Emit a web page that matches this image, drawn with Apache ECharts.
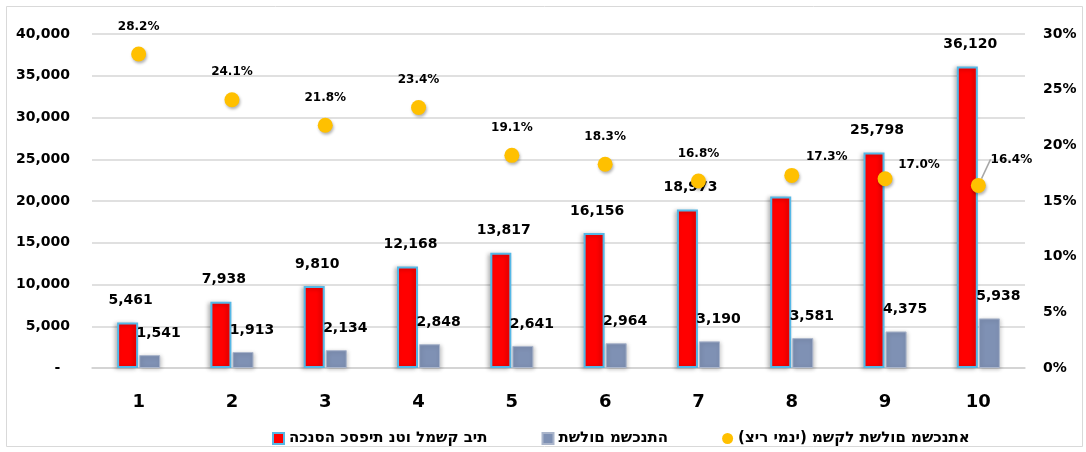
<!DOCTYPE html>
<html>
<head>
<meta charset="utf-8">
<script src="https://cdn.jsdelivr.net/npm/echarts@6/dist/echarts.min.js"></script>
<style>
  html, body { margin: 0; padding: 0; background: #fff; }
  #main { width: 1086px; height: 452px; }
</style>
</head>
<body>
<div id="main"></div>
<script>
// data
var categories = ['1', '2', '3', '4', '5', '6', '7', '8', '9', '10'];
var incomeValues = [5461, 7938, 9810, 12168, 13817, 16156, 18973, 20550, 25798, 36120];
var mortgageValues = [1541, 1913, 2134, 2848, 2641, 2964, 3190, 3581, 4375, 5938];
var shareValues = [28.2, 24.1, 21.8, 23.4, 19.1, 18.3, 16.8, 17.3, 17.0, 16.4];
var seriesNames = ['הכנסה כספית נטו למשק בית', 'תשלום משכנתה', 'משקל תשלום משכנתא (ציר ימני)'];

var font = 'DejaVu Sans';

// which income label is hidden in the picture (category 8)
var hiddenIncomeLabel = 7;
// labels of the share series that sit beside the dot, not above it
var shareLabelShift = { 7: [35, -19], 8: [34, -14], 9: [33, -26] };

function fmt(v) {
    return v.toLocaleString('en-US');
}

// the canvas here draws hebrew in logical order, so flip it to visual order
function visual(s) {
    return s.split('').reverse().map(function (c) {
        if (c === '(') return ')';
        if (c === ')') return '(';
        return c;
    }).join('');
}

var myChart = echarts.init(document.getElementById('main'));

var incomeData = incomeValues.map(function (v, i) {
    if (i === hiddenIncomeLabel) return { value: v, label: { show: false } };
    return v;
});
var shareData = shareValues.map(function (v, i) {
    if (i === 9) return { value: v, labelLine: { show: true } };
    return v;
});

var option = {
    backgroundColor: '#fff',
    animation: false,
    textStyle: { fontFamily: font },
    graphic: [{
        type: 'rect',
        shape: { x: 6.5, y: 6.5, width: 1076, height: 440 },
        style: { fill: 'none', stroke: '#d9d9d9', lineWidth: 1 },
        silent: true
    }],
    legend: {
        left: 267,
        top: 426,
        itemWidth: 11,
        itemHeight: 11,
        itemGap: 54,
        textStyle: { fontFamily: font, fontWeight: 'bold', fontSize: 15, color: '#000' },
        formatter: function (name) { return visual(name); },
        data: [
            { name: seriesNames[0], icon: 'rect' },
            { name: seriesNames[1], icon: 'rect' },
            { name: seriesNames[2], icon: 'circle' }
        ]
    },
    grid: { left: 92, right: 61, top: 34, bottom: 84 },
    xAxis: {
        type: 'category',
        data: categories,
        axisLine: { lineStyle: { color: '#d0d0d0', width: 1.5 } },
        axisTick: { show: false },
        axisLabel: { fontFamily: font, fontWeight: 'bold', fontSize: 18, color: '#000', margin: 25 }
    },
    yAxis: [{
        type: 'value',
        min: 0,
        max: 40000,
        interval: 5000,
        axisLine: { show: false },
        axisTick: { show: false },
        splitLine: { lineStyle: { color: '#d6d6d6', width: 1.5 } },
        axisLabel: {
            fontFamily: font, fontWeight: 'bold', fontSize: 14, color: '#000', margin: 22,
            formatter: function (v) { return v === 0 ? '-  ' : fmt(v); }
        }
    }, {
        type: 'value',
        min: 0,
        max: 30,
        interval: 5,
        axisLine: { show: false },
        axisTick: { show: false },
        splitLine: { show: false },
        axisLabel: {
            fontFamily: font, fontWeight: 'bold', fontSize: 14, color: '#000', margin: 18,
            formatter: '{value}%'
        }
    }],
    series: [
        {
            name: seriesNames[0],
            type: 'bar',
            barWidth: 21,
            barGap: '5%',
            data: incomeData,
            itemStyle: {
                color: '#ff0000',
                borderColor: '#55b8e6',
                borderWidth: 2,
                shadowColor: 'rgba(0,0,0,0.25)',
                shadowBlur: 4,
                shadowOffsetX: -2,
                shadowOffsetY: 1
            },
            label: {
                show: true,
                position: 'top',
                distance: 15,
                offset: [3, 0],
                fontFamily: font, fontWeight: 'bold', fontSize: 14, color: '#000',
                formatter: function (p) { return fmt(p.value); }
            }
        },
        {
            name: seriesNames[1],
            type: 'bar',
            barWidth: 21,
            data: mortgageValues,
            itemStyle: {
                color: '#7f91b4',
                borderColor: '#aab5cb',
                borderWidth: 1,
                shadowColor: 'rgba(0,0,0,0.22)',
                shadowBlur: 4,
                shadowOffsetX: 1,
                shadowOffsetY: 1
            },
            label: {
                show: true,
                position: 'top',
                distance: 15,
                offset: [9, 0],
                fontFamily: font, fontWeight: 'bold', fontSize: 14, color: '#000',
                formatter: function (p) { return fmt(p.value); }
            }
        },
        {
            name: seriesNames[2],
            type: 'scatter',
            yAxisIndex: 1,
            symbol: 'circle',
            symbolSize: 15,
            data: shareData,
            itemStyle: {
                color: '#ffc000',
                opacity: 1,
                shadowColor: 'rgba(0,0,0,0.3)',
                shadowBlur: 3,
                shadowOffsetX: 1,
                shadowOffsetY: 2
            },
            label: {
                show: true,
                position: 'top',
                distance: 14,
                fontFamily: font, fontWeight: 'bold', fontSize: 12, color: '#000',
                formatter: function (p) { return p.value.toFixed(1) + '%'; }
            },
            labelLine: { show: false, lineStyle: { color: '#a6a6a6', width: 1.5 } },
            labelLayout: function (p) {
                var s = shareLabelShift[p.dataIndex];
                if (!s) return {};
                return {
                    x: p.rect.x + p.rect.width / 2 + s[0],
                    y: p.rect.y + p.rect.height / 2 + s[1],
                    align: 'center',
                    verticalAlign: 'middle'
                };
            }
        }
    ]
};

myChart.setOption(option);
</script>
</body>
</html>
